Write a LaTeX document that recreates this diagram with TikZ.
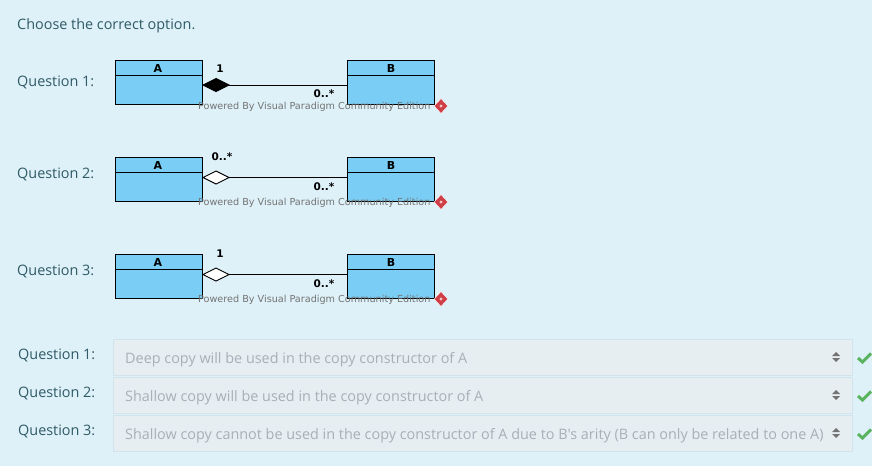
\documentclass[tikz,border=0pt]{standalone}
\usepackage{fontspec}
\setmainfont{Open Sans}
\newfontfamily\plainfont{Open Sans}
\newfontfamily\umlfont{DejaVu Sans}
\usetikzlibrary{shapes.geometric}
\definecolor{pagebg}{HTML}{DEF1F8}
\definecolor{umlfill}{HTML}{7ACEF5}
\definecolor{qtext}{HTML}{2F5A66}
\definecolor{selfill}{HTML}{E6EEF2}
\definecolor{selline}{HTML}{D3E3EB}
\definecolor{seltext}{HTML}{A6B0B6}
\definecolor{okgreen}{HTML}{5CB35F}
\definecolor{logored}{HTML}{CF3F48}
\tikzset{
  x=1pt,y=-1pt,
  umlbox/.style={draw=black,fill=umlfill,line width=1pt,minimum width=87pt,minimum height=44pt,anchor=north west,inner sep=0pt,outer sep=0pt},
  umlname/.style={font=\umlfont\bfseries\fontsize{11}{12}\selectfont,text=black,inner sep=0pt},
  mult/.style={font=\umlfont\bfseries\fontsize{10.5}{11}\selectfont,text=black,inner sep=0pt},
  dia/.style={diamond,draw=black,line width=0.9pt,minimum width=26pt,minimum height=13pt,inner sep=0pt,outer sep=0pt,aspect=2},
  wm/.style={font=\umlfont\fontsize{9.65}{10}\selectfont,text=black!55,inner sep=0pt,anchor=west},
  logo/.style={diamond,fill=logored,draw=white,line width=0.4pt,minimum width=14pt,minimum height=15pt,inner sep=0pt},
  logomark/.style={diamond,fill=white!70!logored,minimum width=3.5pt,minimum height=3.5pt,inner sep=0pt},
  qlabel/.style={font=\fontsize{14.4}{16}\selectfont,text=qtext,inner sep=0pt,anchor=west},
  selbox/.style={draw=selline,fill=selfill,line width=0.8pt,minimum width=739pt,minimum height=35.5pt,anchor=north west,inner sep=0pt},
  seltxt/.style={font=\fontsize{14.4}{16}\selectfont,text=seltext,inner sep=0pt,anchor=west},
  tick/.style={draw=okgreen,line width=3pt}
}
\begin{document}
\begin{tikzpicture}
\useasboundingbox[fill=pagebg] (0,0) rectangle (872,466);
\node[qlabel] (title) at (17,25.5) {Choose the correct option.};
% Diagram 1
\node[qlabel] (q1) at (17,82.5) {Question 1:};
\node[umlbox] (a1) at (115.5,60.5) {};
\node[umlbox] (b1) at (347.5,60.5) {};
\draw[line width=1pt] (115.5,75) -- (202.5,75) (347.5,75) -- (434.5,75);
\node[umlname] (a1n) at (158,68) {A};
\node[umlname] (b1n) at (391,68) {B};
\node[dia,fill=black] (d1) at (216,85) {};
\draw[line width=1pt] (d1.east) -- (b1.west |- d1.east);
\node[mult] (m1a) at (220,68.5) {1};
\node[mult] (m1b) at (324,94) {0..*};
\node[wm] (w1) at (198,107) {Powered By Visual Paradigm Community Edition};
\node[logo] (l1) at (441,106) {};
\node[logomark] (lm1) at (441,106) {};
% Diagram 2
\node[qlabel] (q2) at (17,174.5) {Question 2:};
\node[umlbox] (a2) at (115.5,157.5) {};
\node[umlbox] (b2) at (347.5,157.5) {};
\draw[line width=1pt] (115.5,172) -- (202.5,172) (347.5,172) -- (434.5,172);
\node[umlname] (a2n) at (158,165) {A};
\node[umlname] (b2n) at (391,165) {B};
\node[dia,fill=white] (d2) at (216,177.5) {};
\draw[line width=1pt] (d2.east) -- (b2.west |- d2.east);
\node[mult] (m2a) at (222,157) {0..*};
\node[mult] (m2b) at (324,187) {0..*};
\node[wm] (w2) at (198,203) {Powered By Visual Paradigm Community Edition};
\node[logo] (l2) at (441,202) {};
\node[logomark] (lm2) at (441,202) {};
% Diagram 3
\node[qlabel] (q3) at (17,271.5) {Question 3:};
\node[umlbox] (a3) at (115.5,254.5) {};
\node[umlbox] (b3) at (347.5,254.5) {};
\draw[line width=1pt] (115.5,269) -- (202.5,269) (347.5,269) -- (434.5,269);
\node[umlname] (a3n) at (158,262) {A};
\node[umlname] (b3n) at (391,262) {B};
\node[dia,fill=white] (d3) at (216,274.5) {};
\draw[line width=1pt] (d3.east) -- (b3.west |- d3.east);
\node[mult] (m3a) at (220,254) {1};
\node[mult] (m3b) at (324,284) {0..*};
\node[wm] (w3) at (198,300) {Powered By Visual Paradigm Community Edition};
\node[logo] (l3) at (441,299) {};
\node[logomark] (lm3) at (441,299) {};
% Answers
\node[qlabel] (r1) at (18,355.5) {Question 1:};
\node[qlabel] (r2) at (18,393.5) {Question 2:};
\node[qlabel] (r3) at (18,431.5) {Question 3:};
\node[selbox] (s1) at (113,339) {};
\node[selbox] (s2) at (113,377) {};
\node[selbox] (s3) at (113,415) {};
\node[seltxt] (t1) at (125,359.5) {Deep copy will be used in the copy constructor of A};
\node[seltxt] (t2) at (125,397.5) {Shallow copy will be used in the copy constructor of A};
\node[seltxt] (t3) at (125,435.5) {\plainfont\fontsize{14.4}{16}\selectfont Shallow copy cannot be used in the copy constructor of A due to B's arity (B can only be related to one A)};
\foreach \n/\y in {1/357,2/395,3/433}{
  \fill[black!55] (832,\y-1) -- (836,\y-5) -- (840,\y-1) -- cycle;
  \fill[black!55] (832,\y+1) -- (836,\y+5) -- (840,\y+1) -- cycle;
  \draw[tick] (858,\y+1) -- (862.5,\y+5) -- (871,\y-3.5);
}
\end{tikzpicture}
\end{document}
